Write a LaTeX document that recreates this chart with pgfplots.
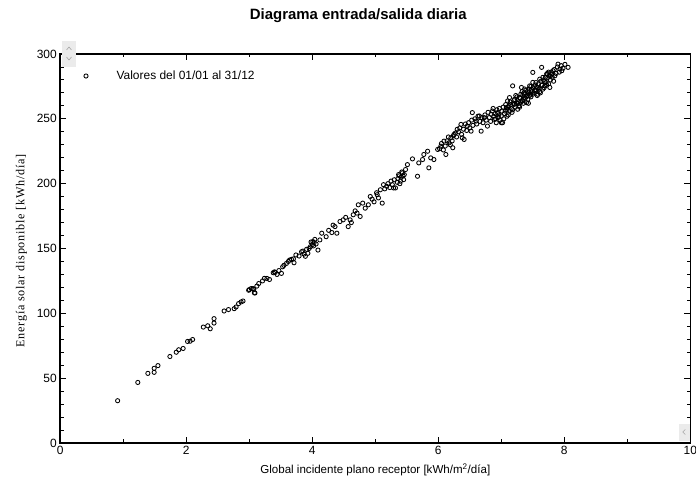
\documentclass[border=0pt]{standalone}
\usepackage{fontspec}
\setmainfont{Liberation Sans}
\newfontfamily\ylfont[LetterSpace=6]{Liberation Serif}
\usepackage{pgfplots}
\pgfplotsset{compat=1.18}
\begin{document}
\begin{tikzpicture}
\begin{axis}[
  at={(0bp,0bp)}, anchor=south west,
  scale only axis, width=630bp, height=389bp,
  xmin=0, xmax=10, ymin=0, ymax=300,
  xtick={0,2,...,10}, minor xtick={1,3,...,9},
  ytick={0,50,...,300}, minor ytick={10,20,...,290},
  tick align=inside, major tick length=6bp, minor tick length=3.5bp,
  axis line style={line width=1.6bp},
  every tick/.style={black, line width=0.9bp},
  ticklabel style={font=\fontsize{12}{14}\selectfont},
  /pgf/number format/assume math mode=true,
  xlabel={Global incidente plano receptor [kWh/m\textsuperscript{2}/día]},
  xlabel style={font=\fontsize{11.6}{13}\selectfont, at={(rel axis cs:0.5,0)}, anchor=base, yshift=-31bp},
  ylabel={\ylfont Energía solar disponible [kWh/día]},
  ylabel style={font=\fontsize{12.2}{14}\selectfont, at={(rel axis cs:0,0.494)}, anchor=base, yshift=36bp},
  title={Diagrama entrada/salida diaria},
  title style={font=\fontsize{15}{17}\selectfont\bfseries, at={(rel axis cs:0.5,1)}, anchor=center, xshift=-17bp, yshift=32bp},
  legend image code/.code={\draw[mark=o, mark size=2.1bp, line width=0.85bp] plot coordinates {(0bp,0bp)};},
  legend style={at={(rel axis cs:0,0.9434)}, anchor=west, xshift=23.6bp, draw=none, fill=none,
    inner sep=0pt, outer sep=0pt, font=\fontsize{12}{14}\selectfont,
    nodes={inner sep=0pt}, /tikz/every odd column/.style={column sep=28.5bp}},
  legend cell align=left,
]
\addplot[only marks, mark=o, mark size=2.1bp, mark options={line width=0.85bp, black}] coordinates {
(0.91,32.6) (1.23,46.7) (1.39,53.7) (1.49,54.5) (1.49,57.6) (1.55,59.7) (1.74,66.7) (1.84,70) (1.88,71.9) (1.95,72.9)
(2.02,78.3) (2.06,78.5) (2.10,79.8) (2.27,89.4) (2.34,90.4) (2.38,88.1) (2.44,95.9) (2.44,92.5) (2.60,101.8) (2.67,102.9)
(2.76,103.6) (2.79,104.9) (2.83,107.5) (2.87,108.8) (2.90,109.5) (2.99,117.8) (3.00,118.3) (3.03,119.1) (3.06,119.1) (3.07,118.4)
(3.08,115.8) (3.09,115.7) (3.12,121) (3.15,123) (3.21,125) (3.24,127) (3.28,126.9) (3.32,126.1) (3.38,131.3) (3.40,132)
(3.41,131.5) (3.44,130) (3.47,133) (3.51,130.8) (3.53,135.9) (3.55,137) (3.59,138.5) (3.62,140) (3.64,141.1) (3.67,141.6)
(3.70,142) (3.71,139) (3.74,145) (3.79,144.2) (3.83,147.5) (3.85,148) (3.87,145.7) (3.89,144) (3.91,149.4) (3.93,146.3)
(3.95,150) (3.97,151.4) (3.98,155) (4.00,153) (4.01,155.3) (4.02,152) (4.03,154.6) (4.04,157) (4.06,153.5) (4.09,148.8)
(4.12,156.6) (4.15,161.8) (4.22,159.1) (4.26,164) (4.31,162.3) (4.33,168) (4.36,166.9) (4.39,161.8) (4.44,170.8) (4.49,172.1)
(4.53,174) (4.57,166.9) (4.60,172.1) (4.62,170) (4.65,176) (4.68,179) (4.71,177.3) (4.73,183.7) (4.76,174.7) (4.80,185)
(4.84,181.1) (4.89,183.7) (4.92,190.1) (4.95,188) (4.98,186) (5.02,193) (5.03,191.5) (5.05,189) (5.08,195.3) (5.11,185)
(5.13,199.2) (5.15,196) (5.18,198) (5.20,200) (5.23,197) (5.25,202) (5.27,199.2) (5.29,196.7) (5.30,203) (5.32,196.7)
(5.35,201) (5.36,204) (5.37,207) (5.38,206) (5.39,200) (5.40,202) (5.41,205) (5.42,209) (5.43,208.3) (5.44,206)
(5.45,203.1) (5.46,207) (5.48,210.9) (5.51,214.7) (5.59,219.1) (5.67,205.7) (5.69,216) (5.75,218.6) (5.77,222.5) (5.83,225)
(5.85,212.2) (5.88,219.9) (5.93,218.6) (5.99,226.4) (6.02,227) (6.04,228.9) (6.05,231) (6.08,226) (6.09,232.8) (6.11,229)
(6.12,222.5) (6.14,233) (6.16,236) (6.17,231.5) (6.19,230) (6.20,235.4) (6.22,233) (6.23,227.7) (6.24,237) (6.25,238)
(6.27,239) (6.29,236) (6.30,241.9) (6.32,240) (6.34,243) (6.36,245.7) (6.37,238) (6.38,235.4) (6.40,242) (6.41,234.1)
(6.43,246) (6.45,241) (6.46,244.4) (6.48,247) (6.50,243) (6.52,240.5) (6.53,249) (6.54,254.8) (6.55,245) (6.58,250)
(6.60,248.3) (6.61,246) (6.63,252) (6.65,252.2) (6.66,248) (6.68,240.5) (6.69,251) (6.71,247) (6.73,250.9) (6.74,253)
(6.76,249) (6.78,244.4) (6.79,255) (6.81,251) (6.83,248) (6.84,253.5) (6.86,256) (6.87,258) (6.88,252) (6.89,249.6)
(6.90,254) (6.91,250) (6.92,247) (6.93,257) (6.94,254.8) (6.95,251) (6.96,253) (6.97,258) (6.98,249) (7.00,252.2)
(7.00,247) (7.01,256) (7.02,247) (7.03,259) (7.04,250) (7.05,254) (7.06,256) (7.07,261) (7.08,258.7) (7.09,257)
(7.09,252) (7.10,263.8) (7.11,253) (7.11,259) (7.12,260) (7.13,266.4) (7.13,256.1) (7.14,263) (7.15,261) (7.16,258)
(7.17,255) (7.18,275.4) (7.18,257) (7.19,262) (7.20,264) (7.21,261.2) (7.21,265) (7.22,259) (7.23,268) (7.24,262)
(7.25,267) (7.26,257.4) (7.26,262) (7.27,263) (7.28,260) (7.29,266.4) (7.29,259) (7.30,266) (7.31,269) (7.31,263)
(7.32,274.2) (7.33,264) (7.33,271) (7.34,263.8) (7.34,268) (7.35,262) (7.35,266) (7.36,270) (7.37,269) (7.37,273)
(7.38,266) (7.39,272) (7.40,262.5) (7.40,267) (7.41,268) (7.42,271.6) (7.42,265) (7.43,270) (7.43,262) (7.44,273)
(7.45,275.4) (7.45,268) (7.46,269) (7.47,267) (7.47,275) (7.48,272.9) (7.49,271) (7.50,278.1) (7.50,285.8) (7.50,269)
(7.51,274) (7.52,270) (7.53,272) (7.54,276) (7.55,272) (7.55,278) (7.56,274.2) (7.57,268) (7.58,269) (7.58,274)
(7.59,277) (7.60,273) (7.61,280.6) (7.61,271) (7.62,270) (7.63,279) (7.64,289.7) (7.64,276) (7.65,276) (7.66,272.9)
(7.66,282) (7.67,280) (7.68,274) (7.69,275.4) (7.69,279) (7.70,282) (7.71,278) (7.72,284.5) (7.72,276) (7.73,285)
(7.74,281.9) (7.75,277) (7.75,286) (7.76,283) (7.77,274.2) (7.78,280) (7.78,283) (7.79,286) (7.80,284.5) (7.81,282)
(7.82,287.1) (7.83,279) (7.84,288) (7.85,283.2) (7.87,285) (7.89,290) (7.90,292.2) (7.92,286) (7.93,288.4) (7.95,291)
(7.96,287.1) (7.98,289) (8.01,292) (8.06,289.7)
};
\addlegendentry{Valores del 01/01 al 31/12}
\end{axis}
% scroll widgets of the original window
\fill[black!8] (1.7bp,376bp) rectangle (15.7bp,402bp);
\draw[black!35, line width=0.6bp] (6.2bp,393bp) -- (8.7bp,396bp) -- (11.2bp,393bp);
\draw[black!35, line width=0.6bp] (6.2bp,386bp) -- (8.7bp,383bp) -- (11.2bp,386bp);
\fill[black!8] (618.7bp,2bp) rectangle (629.7bp,19bp);
\draw[black!35, line width=0.6bp] (625bp,13.5bp) -- (622.5bp,11bp) -- (625bp,8.5bp);
\pgfresetboundingbox
\path (-60.3bp,-35bp) rectangle (635.7bp,443bp);
\end{tikzpicture}
\end{document}
